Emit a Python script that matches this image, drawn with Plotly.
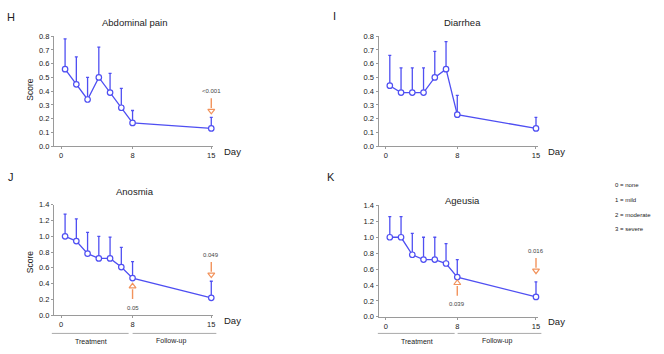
import plotly.graph_objects as go

# ---------------- data ----------------
x_pos = [1, 2, 3, 4, 5, 6, 7, 14]          # visit positions on the day axis
tick_vals = [0.65, 7, 14]
tick_text = ["0", "8", "15"]

abd_mean = [0.56, 0.45, 0.34, 0.50, 0.39, 0.28, 0.17, 0.13]
abd_upper = [0.78, 0.65, 0.50, 0.72, 0.53, 0.42, 0.26, 0.21]
dia_mean = [0.44, 0.39, 0.39, 0.39, 0.50, 0.56, 0.23, 0.13]
dia_upper = [0.66, 0.57, 0.57, 0.57, 0.69, 0.76, 0.37, 0.21]
ano_mean = [1.00, 0.94, 0.78, 0.72, 0.72, 0.61, 0.47, 0.22]
ano_upper = [1.28, 1.22, 1.05, 1.00, 0.99, 0.86, 0.68, 0.43]
age_mean = [1.00, 1.00, 0.78, 0.72, 0.72, 0.67, 0.50, 0.25]
age_upper = [1.26, 1.26, 1.05, 1.00, 1.00, 0.92, 0.72, 0.44]

titles = ["Abdominal pain", "Diarrhea", "Anosmia", "Ageusia"]
letters = ["H", "I", "J", "K"]
# p-value annotations: panel index, x position, text, direction
pv_panel = [0, 2, 2, 3, 3]
pv_x = [14, 7, 14, 7, 14]
pv_text = ["<0.001", "0.05", "0.049", "0.039", "0.016"]
pv_dir = ["down", "up", "down", "up", "down"]
legend_lines = ["0 = none", "1 = mild", "2 = moderate", "3 = severe"]

# ---------------- layout helpers ----------------
W, H = 664, 354
def px(x): return x / W
def py(y): return 1 - y / H

BLUE = "#4f4ff2"
ORANGE = "#f2935c"
AX = "#9a9a9a"
TXT = "#222222"
FONT = "Arial, Liberation Sans, sans-serif"
XMAX = 14.15
UNIT = 11.28  # pixels per x unit

# panel geometry in pixels: x0 (axis), ybottom, ytop, ymax
panels = [
    dict(x0=54, yb=146, yt=33, ymax=0.8, dt=0.1),
    dict(x0=379.7, yb=146, yt=33, ymax=0.8, dt=0.1),
    dict(x0=54, yb=319.3, yt=206, ymax=1.4, dt=0.2),
    dict(x0=379.7, yb=321, yt=206.7, ymax=1.4, dt=0.2),
]
series = [(abd_mean, abd_upper), (dia_mean, dia_upper),
          (ano_mean, ano_upper), (age_mean, age_upper)]
# arrow tip y (data units) for each p-value annotation
pv_tip = [0.236, 0.403, 0.477, 0.462, 0.543]

fig = go.Figure()
layout = dict(width=W, height=H, margin=dict(l=0, r=0, t=0, b=0),
              paper_bgcolor="white", plot_bgcolor="white",
              showlegend=False, font=dict(family=FONT, color=TXT))
annotations = []
shapes = []

def note(text, x, y, size, **kw):
    d = dict(text=text, x=px(x), y=py(y), xref="paper", yref="paper",
             showarrow=False, xanchor="center", yanchor="middle",
             font=dict(size=size, color=kw.pop("color", TXT)))
    d.update(kw)
    annotations.append(d)

for i, (p, (m, u)) in enumerate(zip(panels, series)):
    n = "" if i == 0 else str(i + 1)
    xa, ya = "x" + n, "y" + n
    x1 = p["x0"] + XMAX * UNIT
    err = [uu - mm for uu, mm in zip(u, m)]
    fig.add_trace(go.Scatter(
        x=x_pos, y=m, xaxis=xa, yaxis=ya, mode="lines+markers",
        line=dict(color=BLUE, width=1.3),
        marker=dict(symbol="circle", size=5.5, color="white",
                    line=dict(color=BLUE, width=1.2)),
        error_y=dict(type="data", symmetric=False, array=err,
                     arrayminus=[0] * len(err), color=BLUE,
                     thickness=1.3, width=1.5),
        cliponaxis=False))
    layout["xaxis" + n] = dict(
        domain=[px(p["x0"]), px(x1)], range=[0, XMAX], anchor=ya,
        tickvals=tick_vals, ticktext=tick_text, ticks="outside", ticklen=2,
        tickcolor=AX, showline=True, linecolor=AX, linewidth=1,
        showgrid=False, zeroline=False, tickfont=dict(size=7.5, color=TXT))
    layout["yaxis" + n] = dict(
        domain=[py(p["yb"]), py(p["yt"])], range=[0, p["ymax"]], anchor=xa,
        dtick=p["dt"], tick0=0, tickformat=".1f", ticks="outside", ticklen=2,
        tickcolor=AX, showline=True, linecolor=AX, linewidth=1,
        showgrid=False, zeroline=False, tickfont=dict(size=7.5, color=TXT))
    cx = p["x0"] + 7 * UNIT
    ty = p["yt"] - 14 if i != 3 else p["yt"] - 5
    note(titles[i], cx + (2 if i % 2 == 0 else 5), ty, 9.5)
    note("Day", p["x0"] + 14 * UNIT + 21, p["yb"] + 5, 9.5)

# Score labels
for yc in [88, 265]:
    note("Score", 30, yc, 8.5, textangle=-90)
# panel letters
for t, (lx, ly) in zip(letters, [(11, 13), (336, 12), (11, 177), (332, 177)]):
    note(t, lx, ly, 11)

# p-value arrows
for k in range(len(pv_text)):
    i = pv_panel[k]
    p = panels[i]
    n = "" if i == 0 else str(i + 1)
    xa, ya = "x" + n, "y" + n
    s = p["ymax"] / (p["yb"] - p["yt"])    # data units per pixel
    tip = pv_tip[k]
    sg = 1 if pv_dir[k] == "down" else -1
    head_c = tip + sg * 3 * s
    shaft_a = tip + sg * 6 * s
    shaft_b = tip + sg * 16 * s
    text_y = tip + sg * (23 if sg == 1 else 25) * s
    shapes.append(dict(type="line", xref=xa, yref=ya, x0=pv_x[k], x1=pv_x[k],
                       y0=shaft_a, y1=shaft_b,
                       line=dict(color=ORANGE, width=1.4)))
    fig.add_trace(go.Scatter(
        x=[pv_x[k]], y=[head_c], xaxis=xa, yaxis=ya, mode="markers",
        marker=dict(symbol="triangle-down-open" if sg == 1 else "triangle-up-open",
                    size=6, color=ORANGE, line=dict(width=1.2)),
        cliponaxis=False, hoverinfo="skip"))
    annotations.append(dict(text=pv_text[k], x=pv_x[k], y=text_y, xref=xa,
                            yref=ya, showarrow=False, xanchor="center",
                            yanchor="middle",
                            font=dict(size=6, color="#444444")))

# Treatment / Follow-up bars
for (t0, t1, f0, f1, ly) in [(52, 129, 133, 217, 338), (379, 456, 459, 543, 338)]:
    shapes.append(dict(type="line", xref="paper", yref="paper", x0=px(t0),
                       x1=px(t1), y0=py(ly), y1=py(ly),
                       line=dict(color="#aaaaaa", width=1)))
    shapes.append(dict(type="line", xref="paper", yref="paper", x0=px(f0),
                       x1=px(f1), y0=py(ly), y1=py(ly),
                       line=dict(color="#aaaaaa", width=1)))
    note("Treatment", (t0 + t1) / 2 + 1, ly + 8, 7)
    note("Follow-up", (f0 + f1) / 2 - 3, ly + 8, 7)

# scale legend
for j, t in enumerate(legend_lines):
    note(t, 615, 186 + 15 * j, 6, xanchor="left")

layout["annotations"] = annotations
layout["shapes"] = shapes
fig.update_layout(**layout)
fig.write_html("out.html")
